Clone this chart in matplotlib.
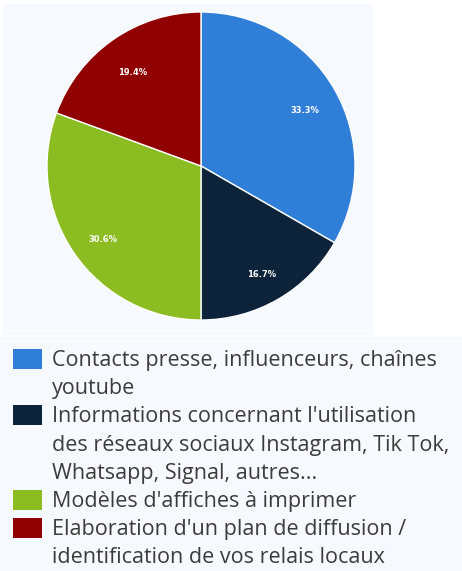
import matplotlib
matplotlib.use("Agg")
import matplotlib.pyplot as plt
from matplotlib.patches import Rectangle

categories = [
    "Contacts presse, influenceurs, chaînes\nyoutube",
    "Informations concernant l'utilisation\ndes réseaux sociaux Instagram, Tik Tok,\nWhatsapp, Signal, autres...",
    "Modèles d'affiches à imprimer",
    "Elaboration d'un plan de diffusion /\nidentification de vos relais locaux",
]
values = [33.3, 16.7, 30.6, 19.4]
colors = ["#2f7ed8", "#0d233a", "#8bbc21", "#910000"]

W, H = 462, 571
fig = plt.figure(figsize=(W / 100, H / 100), dpi=100)
fig.patch.set_facecolor("white")

# panel backgrounds
fig.add_artist(Rectangle((3 / W, 1 - 335 / H), 370 / W, 331 / H, transform=fig.transFigure,
                         facecolor="#f6f9fd", edgecolor="none", zorder=0))
fig.add_artist(Rectangle((0, 0), 1, 1 - 337 / H, transform=fig.transFigure,
                         facecolor="#f6f9fd", edgecolor="none", zorder=0))

cx, cy, r = 201, 166, 154
ax = fig.add_axes([(cx - r) / W, 1 - (cy + r) / H, 2 * r / W, 2 * r / H])
ax.set_facecolor("none")
wedges, texts, autotexts = ax.pie(
    values, colors=colors, startangle=90, counterclock=False,
    autopct="%.1f%%", pctdistance=0.78,
    wedgeprops=dict(edgecolor="white", linewidth=1),
    textprops=dict(color="white", fontsize=6, fontweight="bold", family="DejaVu Sans"),
)
for t in autotexts:
    t.set_va("top")
ax.set_aspect("equal")
ax.set_xlim(-1, 1)
ax.set_ylim(-1, 1)

# legend
baseline = 366.0
step = 28.2
for lab, col in zip(categories, colors):
    fig.add_artist(Rectangle((13 / W, 1 - (baseline + 3) / H), 29 / W, 20 / H,
                             transform=fig.transFigure, facecolor=col, edgecolor="none"))
    for line in lab.split("\n"):
        fig.text(52 / W, 1 - baseline / H, line, ha="left", va="baseline", fontsize=15.5,
                 family="Open Sans", color="#3c3c3c")
        baseline += step

fig.savefig("out.png", dpi=100)
